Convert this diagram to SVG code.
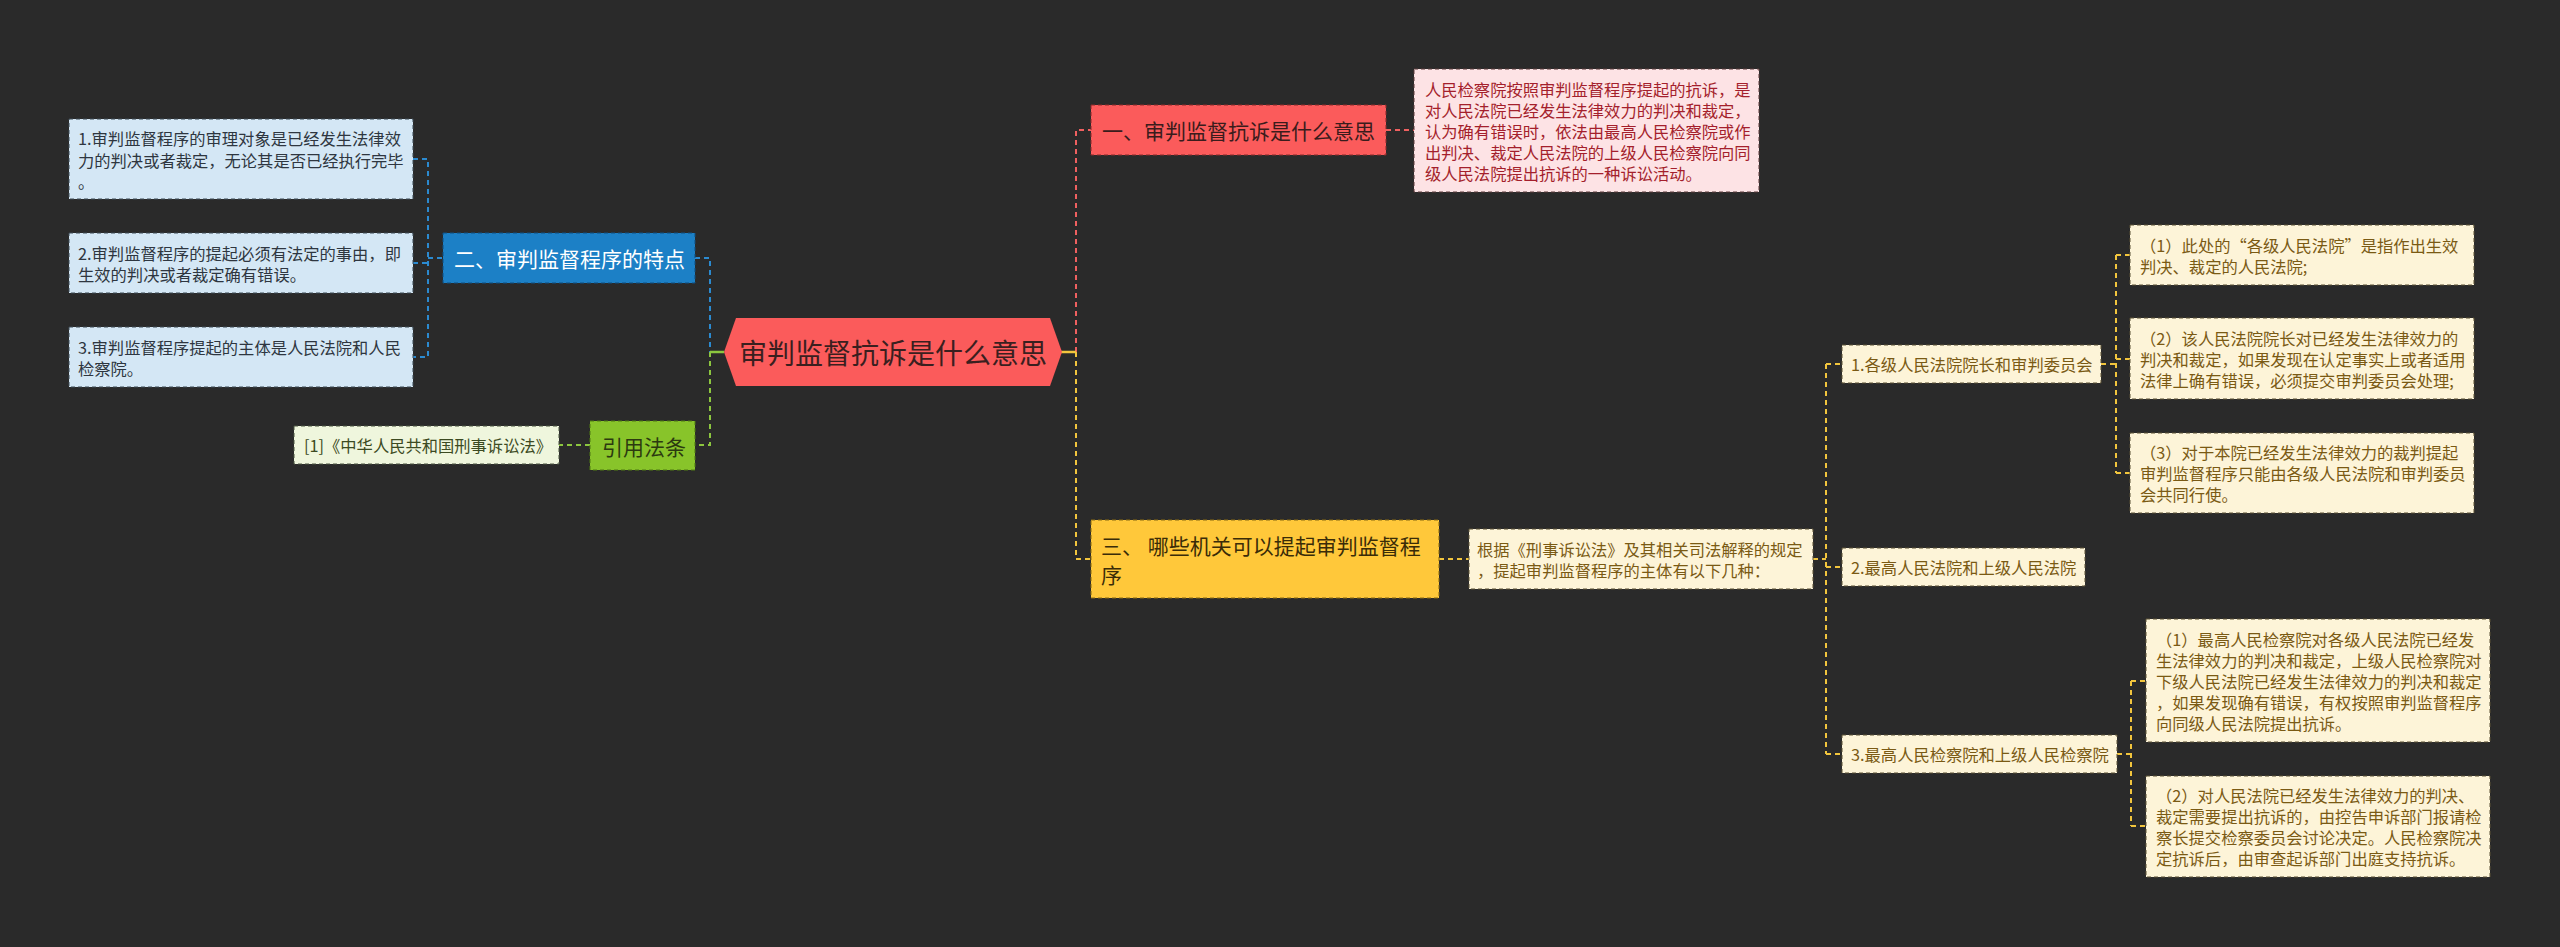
<svg xmlns="http://www.w3.org/2000/svg" width="2560" height="947" viewBox="0 0 2560 947">
<style>
text{font-family:"Noto Sans CJK SC","Noto Sans",sans-serif;dominant-baseline:central}
.t16{font-size:16.3px}
.t21{font-size:21px}
.con{fill:none;stroke-width:2;stroke-dasharray:5 4}
.solid{fill:none;stroke-width:2.5}
.box{stroke-width:1;stroke-dasharray:4 3}
.cb{stroke:#2b8ad0}.cr{stroke:#f06060}.cg{stroke:#8cc63f}.cy{stroke:#f2c53d}
.lb{fill:#d4e7f5;stroke:#3d4a55}.lr{fill:#fde3e5;stroke:#5a3a3a}.lg{fill:#eff6dd;stroke:#4a5540}.ly{fill:#fdf4d8;stroke:#5a5035}
.txb{fill:#2e3640}.txr{fill:#a41f2c}.txg{fill:#3c4a22}.txy{fill:#7a5a14}
</style>
<rect x="0" y="0" width="2560" height="947" fill="#2a2a2a"/>
<g id="connectors">
<path class="con cb" d="M413 159 H428 V357 H413 M413 263 H428 M428 258 H443 M695 258 H710 V352"/>
<path class="con cg" d="M710 352 V445 H695 M590 445 H559"/>
<path class="solid cg" d="M710 352 H724"/>
<path class="con cr" d="M1076 352 V130 H1091 M1386 130 H1414"/>
<path class="solid cy" d="M1061 352 H1076"/>
<path class="con cy" d="M1076 352 V559 H1091 M1439 559 H1469 M1813 559 H1826 M1826 364 V754 M1826 364 H1842 M1826 567 H1842 M1826 754 H1842 M2101 364 H2116 M2116 255 V473 M2116 255 H2130 M2116 359 H2130 M2116 473 H2130 M2117 754 H2131 M2131 681 V826 M2131 681 H2146 M2131 826 H2146"/>
</g>
<g id="center">
<polygon points="724,352 736,318 1050,318 1062,352 1050,386 736,386" fill="#fb5b5b"/>
<text x="893" y="352" font-size="28" text-anchor="middle" fill="#3a1f1f">审判监督抗诉是什么意思</text>
</g>
<g id="n-blue">
<rect class="box" x="443" y="233" width="252" height="50" fill="#1c80c6" stroke="#0e4f80"/>
<text class="t21" x="454" y="258" fill="#ffffff">二、审判监督程序的特点</text>
</g>
<g id="n-blue-1">
<rect class="box lb" x="69" y="119" width="344" height="80"/>
<text class="t16 txb" x="78"><tspan x="78" y="138">1.审判监督程序的审理对象是已经发生法律效</tspan><tspan x="78" y="159.5">力的判决或者裁定，无论其是否已经执行完毕</tspan><tspan x="78" y="181">。</tspan></text>
</g>
<g id="n-blue-2">
<rect class="box lb" x="69" y="233" width="344" height="60"/>
<text class="t16 txb"><tspan x="78" y="252.5">2.审判监督程序的提起必须有法定的事由，即</tspan><tspan x="78" y="273.5">生效的判决或者裁定确有错误。</tspan></text>
</g>
<g id="n-blue-3">
<rect class="box lb" x="69" y="327" width="344" height="60"/>
<text class="t16 txb"><tspan x="78" y="346.5">3.审判监督程序提起的主体是人民法院和人民</tspan><tspan x="78" y="367.5">检察院。</tspan></text>
</g>
<g id="n-green">
<rect class="box" x="590" y="421" width="105" height="49" fill="#88c42a" stroke="#4f7a12"/>
<text class="t21" x="602" y="445.5" fill="#2c3a10">引用法条</text>
</g>
<g id="n-green-1">
<rect class="box lg" x="294" y="426" width="265" height="38"/>
<text class="t16 txg" x="304" y="445">[1]《中华人民共和国刑事诉讼法》</text>
</g>
<g id="n-red">
<rect class="box" x="1091" y="105" width="295" height="50" fill="#fb5b5b" stroke="#8a2a2a"/>
<text class="t21" x="1102" y="130" fill="#3a1c1c">一、审判监督抗诉是什么意思</text>
</g>
<g id="n-red-1">
<rect class="box lr" x="1414" y="69" width="345" height="123"/>
<text class="t16 txr"><tspan x="1425" y="89">人民检察院按照审判监督程序提起的抗诉，是</tspan><tspan x="1425" y="110">对人民法院已经发生法律效力的判决和裁定，</tspan><tspan x="1425" y="131">认为确有错误时，依法由最高人民检察院或作</tspan><tspan x="1425" y="152">出判决、裁定人民法院的上级人民检察院向同</tspan><tspan x="1425" y="173">级人民法院提出抗诉的一种诉讼活动。</tspan></text>
</g>
<g id="n-yellow">
<rect class="box" x="1091" y="520" width="348" height="78" fill="#ffc83a" stroke="#8a6a10"/>
<text class="t21" fill="#3a2c08"><tspan x="1101" y="545">三、 哪些机关可以提起审判监督程</tspan><tspan x="1101" y="574">序</tspan></text>
</g>
<g id="n-yellow-1">
<rect class="box ly" x="1469" y="529" width="344" height="60"/>
<text class="t16 txy"><tspan x="1477" y="548.5">根据《刑事诉讼法》及其相关司法解释的规定</tspan><tspan x="1477" y="569.5">，提起审判监督程序的主体有以下几种：</tspan></text>
</g>
<g id="n-y-a">
<rect class="box ly" x="1842" y="345" width="259" height="38"/>
<text class="t16 txy" x="1851" y="364">1.各级人民法院院长和审判委员会</text>
</g>
<g id="n-y-b">
<rect class="box ly" x="1842" y="548" width="243" height="38"/>
<text class="t16 txy" x="1851" y="567">2.最高人民法院和上级人民法院</text>
</g>
<g id="n-y-c">
<rect class="box ly" x="1842" y="735" width="275" height="38"/>
<text class="t16 txy" x="1851" y="754">3.最高人民检察院和上级人民检察院</text>
</g>
<g id="n-y-a1">
<rect class="box ly" x="2130" y="225" width="344" height="60"/>
<text class="t16 txy"><tspan x="2140" y="244.5">（1）此处的“各级人民法院”是指作出生效</tspan><tspan x="2140" y="265.5">判决、裁定的人民法院;</tspan></text>
</g>
<g id="n-y-a2">
<rect class="box ly" x="2130" y="318" width="344" height="81"/>
<text class="t16 txy"><tspan x="2140" y="337.5">（2）该人民法院院长对已经发生法律效力的</tspan><tspan x="2140" y="358.5">判决和裁定，如果发现在认定事实上或者适用</tspan><tspan x="2140" y="379.5">法律上确有错误，必须提交审判委员会处理;</tspan></text>
</g>
<g id="n-y-a3">
<rect class="box ly" x="2130" y="433" width="344" height="80"/>
<text class="t16 txy"><tspan x="2140" y="452">（3）对于本院已经发生法律效力的裁判提起</tspan><tspan x="2140" y="473">审判监督程序只能由各级人民法院和审判委员</tspan><tspan x="2140" y="494">会共同行使。</tspan></text>
</g>
<g id="n-y-c1">
<rect class="box ly" x="2146" y="619" width="344" height="123"/>
<text class="t16 txy"><tspan x="2156" y="638.5">（1）最高人民检察院对各级人民法院已经发</tspan><tspan x="2156" y="659.5">生法律效力的判决和裁定，上级人民检察院对</tspan><tspan x="2156" y="680.5">下级人民法院已经发生法律效力的判决和裁定</tspan><tspan x="2156" y="701.5">，如果发现确有错误，有权按照审判监督程序</tspan><tspan x="2156" y="722.5">向同级人民法院提出抗诉。</tspan></text>
</g>
<g id="n-y-c2">
<rect class="box ly" x="2146" y="776" width="344" height="101"/>
<text class="t16 txy"><tspan x="2156" y="795">（2）对人民法院已经发生法律效力的判决、</tspan><tspan x="2156" y="816">裁定需要提出抗诉的，由控告申诉部门报请检</tspan><tspan x="2156" y="837">察长提交检察委员会讨论决定。人民检察院决</tspan><tspan x="2156" y="858">定抗诉后，由审查起诉部门出庭支持抗诉。</tspan></text>
</g>
</svg>
